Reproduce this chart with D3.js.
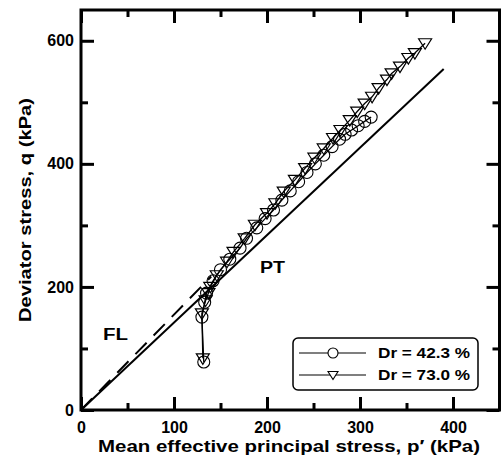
<!DOCTYPE html>
<html>
<head>
<meta charset="utf-8">
<script src="https://cdn.jsdelivr.net/npm/d3@7"></script>
<style>
  html, body { margin: 0; padding: 0; background: #fff; }
  svg { display: block; }
  text { font-family: "Liberation Sans", Arial, sans-serif; font-weight: bold; fill: #000; }
</style>
</head>
<body>
<svg id="chart" width="502" height="462"></svg>
<script>
// ---- Data ----
const xMajorTicks = [0, 100, 200, 300, 400];
const xMinorTicks = [50, 150, 250, 350];
const yMajorTicks = [0, 200, 400, 600];
const yMinorTicks = [100, 300, 500];

// Dr = 42.3 % (circles): p', q
const circP = [132, 130, 133, 135, 142, 150, 160, 171, 178, 189, 198, 207, 216, 225, 234, 243, 252, 261, 270, 278, 284, 291, 298, 305, 312];
const circQ = [78, 151, 175, 190, 210, 228, 245, 263, 279, 296, 311, 325, 341, 356, 371, 386, 400, 414, 428, 440, 448, 455, 462, 469, 476];

// Dr = 73.0 % (triangles): p', q
const triP = [131, 130, 134, 137, 139, 146, 157, 164, 176, 187, 200, 209, 218, 230, 241, 251, 261, 271, 279, 289, 297, 305, 313, 320, 329, 334, 343, 352, 359, 370];
const triQ = [84, 157, 178, 190, 200, 219, 241, 257, 279, 301, 320, 336, 355, 374, 393, 410, 425, 442, 455, 471, 485, 498, 509, 523, 537, 547, 558, 572, 580, 596];

// Reference lines
const flP = [0, 390];   // solid line
const flQ = [0, 554];
const ptP = [0, 140];   // dashed line
const ptQ = [0, 217];

const legendLabels = ["Dr = 42.3 %", "Dr = 73.0 %"];

// ---- Layout ----
const svg = d3.select("#chart");
const L = 81, R = 499.5, T = 10, B = 410;
const x = d3.scaleLinear().domain([0, 450]).range([L, R]);
const y = d3.scaleLinear().domain([0, 650]).range([B, T]);

function styleAxis(g) {
  g.select(".domain").remove();
  g.selectAll(".tick line").attr("stroke", "#000").attr("stroke-width", 3);
  g.selectAll(".tick text").style("font-size", "16px").style("font-weight", "bold")
    .style("font-family", "'Liberation Sans', Arial, sans-serif");
}

// bottom
svg.append("g").attr("transform", `translate(0,${B})`)
  .call(d3.axisBottom(x).tickValues(xMajorTicks).tickSize(-13).tickPadding(12).tickFormat(d3.format("d")))
  .call(styleAxis);
svg.append("g").attr("transform", `translate(0,${B})`)
  .call(d3.axisBottom(x).tickValues(xMinorTicks).tickSize(-7).tickFormat(""))
  .call(styleAxis);
// top
svg.append("g").attr("transform", `translate(0,${T})`)
  .call(d3.axisTop(x).tickValues(xMajorTicks).tickSize(-13).tickFormat(""))
  .call(styleAxis);
svg.append("g").attr("transform", `translate(0,${T})`)
  .call(d3.axisTop(x).tickValues(xMinorTicks).tickSize(-7).tickFormat(""))
  .call(styleAxis);
// left
svg.append("g").attr("transform", `translate(${L},0)`)
  .call(d3.axisLeft(y).tickValues(yMajorTicks).tickSize(-13).tickPadding(7).tickFormat(d3.format("d")))
  .call(styleAxis);
svg.append("g").attr("transform", `translate(${L},0)`)
  .call(d3.axisLeft(y).tickValues(yMinorTicks).tickSize(-7).tickFormat(""))
  .call(styleAxis);
// right
svg.append("g").attr("transform", `translate(${R},0)`)
  .call(d3.axisRight(y).tickValues(yMajorTicks).tickSize(-13).tickFormat(""))
  .call(styleAxis);
svg.append("g").attr("transform", `translate(${R},0)`)
  .call(d3.axisRight(y).tickValues(yMinorTicks).tickSize(-7).tickFormat(""))
  .call(styleAxis);

// frame
svg.append("rect").attr("x", L).attr("y", T).attr("width", R - L).attr("height", B - T)
  .attr("fill", "none").attr("stroke", "#000").attr("stroke-width", 3);

const line = d3.line().x(d => x(d[0])).y(d => y(d[1]));

// solid FL line
svg.append("path").datum(flP.map((p, i) => [p, flQ[i]]))
  .attr("d", line).attr("fill", "none").attr("stroke", "#000").attr("stroke-width", 2);
// dashed line
svg.append("path").datum(ptP.map((p, i) => [p, ptQ[i]]))
  .attr("d", line).attr("fill", "none").attr("stroke", "#000").attr("stroke-width", 2)
  .attr("stroke-dasharray", "16,10");

// series
const circData = circP.map((p, i) => [p, circQ[i]]);
const triData = triP.map((p, i) => [p, triQ[i]]);

svg.append("path").datum(circData).attr("d", line)
  .attr("fill", "none").attr("stroke", "#000").attr("stroke-width", 1.3);
svg.append("path").datum(triData).attr("d", line)
  .attr("fill", "none").attr("stroke", "#000").attr("stroke-width", 1.3);

svg.append("g").selectAll("circle").data(circData).join("circle")
  .attr("cx", d => x(d[0])).attr("cy", d => y(d[1])).attr("r", 6)
  .attr("fill", "none").attr("stroke", "#000").attr("stroke-width", 1.1);

const triPath = "M-6.5,-4.5L6.5,-4.5L0,6Z";
svg.append("g").selectAll("path").data(triData).join("path")
  .attr("transform", d => `translate(${x(d[0])},${y(d[1])})`)
  .attr("d", triPath)
  .attr("fill", "none").attr("stroke", "#000").attr("stroke-width", 1.2);

// annotations
svg.append("text").attr("x", 103).attr("y", 340).style("font-size", "16px")
  .attr("textLength", 25).attr("lengthAdjust", "spacingAndGlyphs").text("FL");
svg.append("text").attr("x", 260).attr("y", 273).style("font-size", "16px")
  .attr("textLength", 25).attr("lengthAdjust", "spacingAndGlyphs").text("PT");

// legend
const lg = svg.append("g");
lg.append("rect").attr("x", 293).attr("y", 338).attr("width", 185).attr("height", 52)
  .attr("rx", 5).attr("fill", "#fff").attr("stroke", "#000").attr("stroke-width", 1.5);
const rowsY = [353, 375];
legendLabels.forEach((lab, i) => {
  const yy = rowsY[i];
  lg.append("line").attr("x1", 299).attr("x2", 366).attr("y1", yy).attr("y2", yy)
    .attr("stroke", "#000").attr("stroke-width", 1.2);
  if (i === 0) {
    lg.append("circle").attr("cx", 333).attr("cy", yy).attr("r", 5)
      .attr("fill", "#fff").attr("stroke", "#000").attr("stroke-width", 1.1);
  } else {
    lg.append("path").attr("transform", `translate(333,${yy})`)
      .attr("d", "M-5,-3.5L5,-3.5L0,4.5Z")
      .attr("fill", "#fff").attr("stroke", "#000").attr("stroke-width", 1.1);
  }
  lg.append("text").attr("x", 378).attr("y", yy + 5).style("font-size", "15px")
    .attr("textLength", 92).attr("lengthAdjust", "spacingAndGlyphs").text(lab);
});

// axis titles
svg.append("text").attr("x", 98).attr("y", 452)
  .style("font-size", "17px").attr("textLength", 382).attr("lengthAdjust", "spacingAndGlyphs")
  .text("Mean effective principal stress, p\u2032 (kPa)");
svg.append("text").attr("transform", "translate(31,322) rotate(-90)")
  .style("font-size", "17px").attr("textLength", 224).attr("lengthAdjust", "spacingAndGlyphs")
  .text("Deviator stress, q (kPa)");
</script>
</body>
</html>
